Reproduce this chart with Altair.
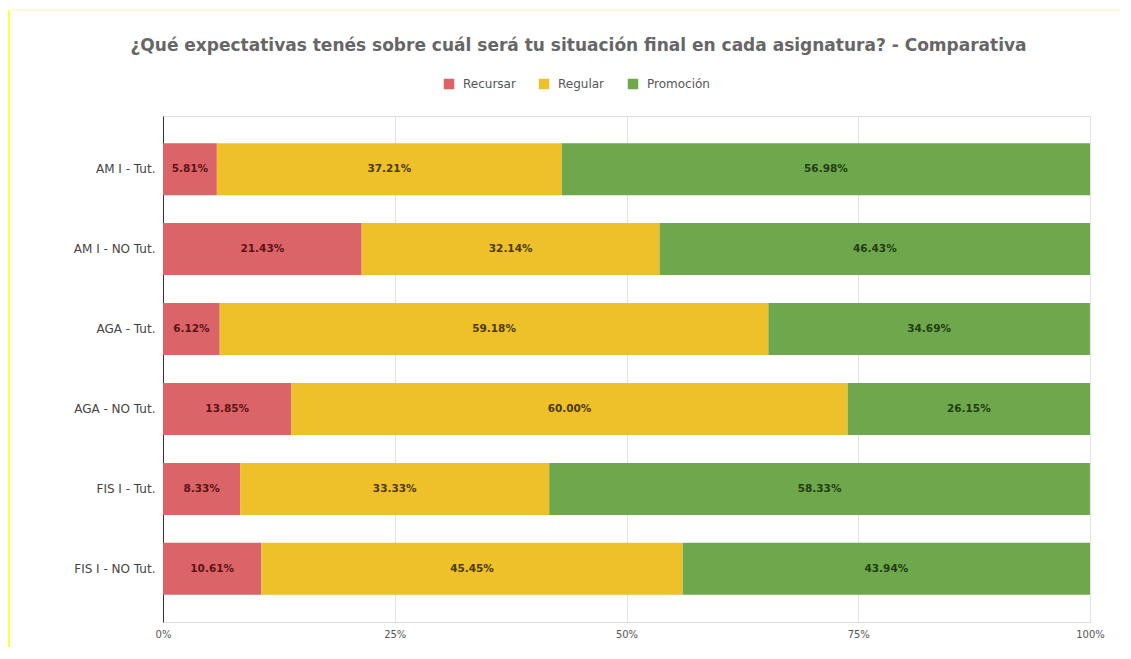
import altair as alt
import pandas as pd

categories = ["AM I - Tut.", "AM I -  NO Tut.", "AGA - Tut.", "AGA -  NO Tut.", "FIS I - Tut.", "FIS I -  NO Tut."]
series = ["Recursar", "Regular", "Promoción"]
recursar = [5.81, 21.43, 6.12, 13.85, 8.33, 10.61]
regular = [37.21, 32.14, 59.18, 60.00, 33.33, 45.45]
promocion = [56.98, 46.43, 34.69, 26.15, 58.33, 43.94]
colors = ["#db6469", "#eec12b", "#6fa84c"]
text_colors = ["#5c1316", "#4d3a00", "#1f3d10"]
x_ticks = [0, 25, 50, 75, 100]

rows = []
for vals, s, o in zip([recursar, regular, promocion], series, range(3)):
    for c, v in zip(categories, vals):
        rows.append({"cat": c, "serie": s, "val": v, "ord": o})
df = pd.DataFrame(rows)

FONT = "DejaVu Sans"

base = alt.Chart(df).transform_stack(
    stack="val", groupby=["cat"], as_=["x0", "x1"],
    sort=[alt.SortField("ord", order="ascending")]
).transform_calculate(
    mid="(datum.x0 + datum.x1) / 2",
    lbl="format(datum.val, '.2f') + '%'"
)

y_enc = alt.Y("cat:N", sort=categories, title=None,
              scale=alt.Scale(paddingInner=0.35, paddingOuter=0.34),
              axis=alt.Axis(labelFont=FONT, labelFontSize=12, labelColor="#444",
                            ticks=False, labelPadding=8, domain=True,
                            domainColor="#333", domainWidth=1))

bars = base.mark_bar().encode(
    x=alt.X("x0:Q", title=None,
            scale=alt.Scale(domain=[0, 100], nice=False),
            axis=alt.Axis(values=x_ticks, labelExpr="datum.value + '%'",
                          labelFont=FONT, labelFontSize=10, labelColor="#555",
                          labelAlign="center", labelFlush=False,
                          grid=True, gridColor="#e2e2e6", domain=False, ticks=False,
                          labelPadding=7)),
    x2="x1:Q",
    y=y_enc,
    color=alt.Color("serie:N", sort=series,
                    scale=alt.Scale(domain=series, range=colors),
                    legend=alt.Legend(title=None, orient="none", direction="horizontal",
                                      legendX=280, legendY=-38,
                                      symbolType="square", symbolSize=110,
                                      symbolStrokeWidth=0,
                                      labelFont=FONT, labelFontSize=12, labelColor="#555",
                                      columnPadding=22, labelOffset=8)),
)

texts = base.mark_text(font=FONT, fontSize=10.5, fontWeight="bold").encode(
    x="mid:Q",
    y=alt.Y("cat:N", sort=categories),
    text="lbl:N",
    color=alt.Color("serie:N", scale=alt.Scale(domain=series, range=text_colors), legend=None),
)

frame_df = pd.DataFrame({"k": [0]})
left_line = alt.Chart(frame_df).mark_rule(color="#ffff40", strokeWidth=2).encode(
    x=alt.value(-154), y=alt.value(-106), y2=alt.value(540)
)
top_line = alt.Chart(frame_df).mark_rule(color="#fffbc0", strokeWidth=1.5).encode(
    x=alt.value(-154), x2=alt.value(970), y=alt.value(-106)
)

chart = alt.layer(bars, texts, left_line, top_line).resolve_scale(color="independent").properties(
    width=927, height=506,
    autosize=alt.AutoSizeParams(type="none"),
    padding={"left": 155, "top": 108, "right": 30, "bottom": 25},
    title=alt.TitleParams(
        "¿Qué expectativas tenés sobre cuál será tu situación final en cada asignatura? - Comparativa",
        font=FONT, fontSize=17, fontWeight="bold", color="#666",
        anchor="middle", dx=-48, offset=-46,
    ),
).configure_view(stroke=None).configure(background="white")

chart.save("out.html", embed_options={"renderer": "svg", "actions": False})
